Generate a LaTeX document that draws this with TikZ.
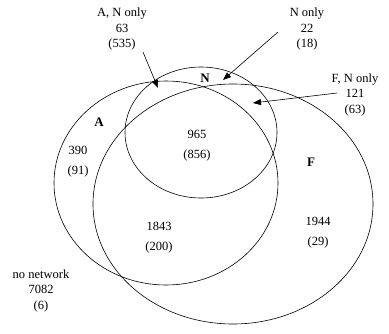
\documentclass[tikz,border=0pt]{standalone}
\usepackage{fontspec}
\setmainfont{Liberation Serif}
\usetikzlibrary{arrows.meta}
\begin{document}
\begin{tikzpicture}[
  x=1pt, y=-1pt,
  line width=0.6pt,
  outlbl/.style={align=center, inner sep=0pt, font=\fontsize{12.5}{15.5}\selectfont},
  cnt/.style={align=center, inner sep=0pt, font=\fontsize{12.5}{20}\selectfont},
  setname/.style={inner sep=0pt, font=\fontsize{13}{15}\selectfont\bfseries},
  >={Triangle[length=8pt,width=6pt]}
]
  \useasboundingbox (0,0) rectangle (389,333);

  % the three sets
  \draw (166,183) ellipse [x radius=112pt, y radius=102pt];
  \draw (201,132.5) ellipse [x radius=76pt, y radius=65.5pt];
  \draw (233,204) ellipse [x radius=140pt, y radius=120pt];

  % set names
  \node[setname] (nameA) at (99,122) {A};
  \node[setname] (nameN) at (205,78) {N};
  \node[setname] (nameF) at (311,162) {F};

  % counts inside the sets
  \node[cnt] (onlyA) at (78,161.5) {390\\(91)};
  \node[cnt] (allAFN) at (197,145.5) {965\\(856)};
  \node[cnt] (AF) at (159,237.5) {1843\\(200)};
  \node[cnt] (onlyF) at (318,232.5) {1944\\(29)};

  % labels outside
  \node[outlbl] (ANlbl) at (122,29) {A, N only\\63\\(535)};
  \node[outlbl] (Nlbl) at (307,29) {N only\\22\\(18)};
  \node[outlbl] (FNlbl) at (355,94.5) {F, N only\\121\\(63)};
  \node[outlbl] (nonet) at (41,290.5) {no network\\7082\\(6)};

  % arrows into the small regions
  \coordinate (ANtail) at (143,52);
  \coordinate (ANhead) at (158,88);
  \coordinate (Ntail) at (278,32);
  \coordinate (Nhead) at (223,80);
  \coordinate (FNtail) at (337,93);
  \coordinate (FNhead) at (253,103);
  \draw[->] (ANtail) -- (ANhead);
  \draw[->] (Ntail) -- (Nhead);
  \draw[->] (FNtail) -- (FNhead);
\end{tikzpicture}
\end{document}
